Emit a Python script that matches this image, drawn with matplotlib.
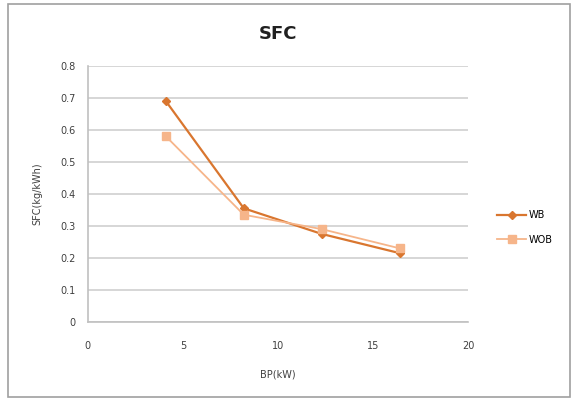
import matplotlib.pyplot as plt
from matplotlib.patches import Rectangle

bp = [4.1, 8.2, 12.3, 16.4]
sfc_wb = [0.69, 0.355, 0.275, 0.215]
sfc_wob = [0.58, 0.335, 0.29, 0.23]

fig = plt.figure(figsize=(5.78, 3.99), dpi=100)
ax = fig.add_axes([0.152, 0.193, 0.658, 0.642])

ax.plot(bp, sfc_wb, color='#d9762f', marker='D', markersize=4, linewidth=1.6, label='WB')
ax.plot(bp, sfc_wob, color='#f6b58a', marker='s', markersize=6, linewidth=1.3, label='WOB')

ax.set_xlim(0, 20)
ax.set_ylim(0, 0.8)
ax.set_xticks([0, 5, 10, 15, 20])
ax.set_yticks([0, 0.1, 0.2, 0.3, 0.4, 0.5, 0.6, 0.7, 0.8])
ax.set_yticklabels(['0', '0.1', '0.2', '0.3', '0.4', '0.5', '0.6', '0.7', '0.8'])
ax.tick_params(labelsize=7, length=0, colors='#404040')
ax.tick_params(axis='y', pad=9)
ax.tick_params(axis='x', pad=14)
ax.grid(axis='y', color='#d0d0d0', linewidth=1.2)
ax.set_axisbelow(True)
for s in ['top', 'right']:
    ax.spines[s].set_visible(False)
for s in ['left', 'bottom']:
    ax.spines[s].set_color('#c0c0c0')
    ax.spines[s].set_linewidth(1.2)

ax.set_title('SFC', fontsize=13, fontweight='bold', color='#202020', pad=19)
ax.set_xlabel('BP(kW)', fontsize=7, color='#404040', labelpad=13)
ax.set_ylabel('SFC(kg/kWh)', fontsize=7, color='#404040', labelpad=13)

fig.legend(loc='center left', bbox_to_anchor=(0.845, 0.43), frameon=False,
           fontsize=7, handlelength=3, labelspacing=1.5, handletextpad=0.2)

fig.patches.append(Rectangle((0.014, 0.005), 0.972, 0.985, transform=fig.transFigure,
                             fill=False, edgecolor='#a0a0a0', linewidth=1.2))

fig.savefig('out.png', dpi=100)
